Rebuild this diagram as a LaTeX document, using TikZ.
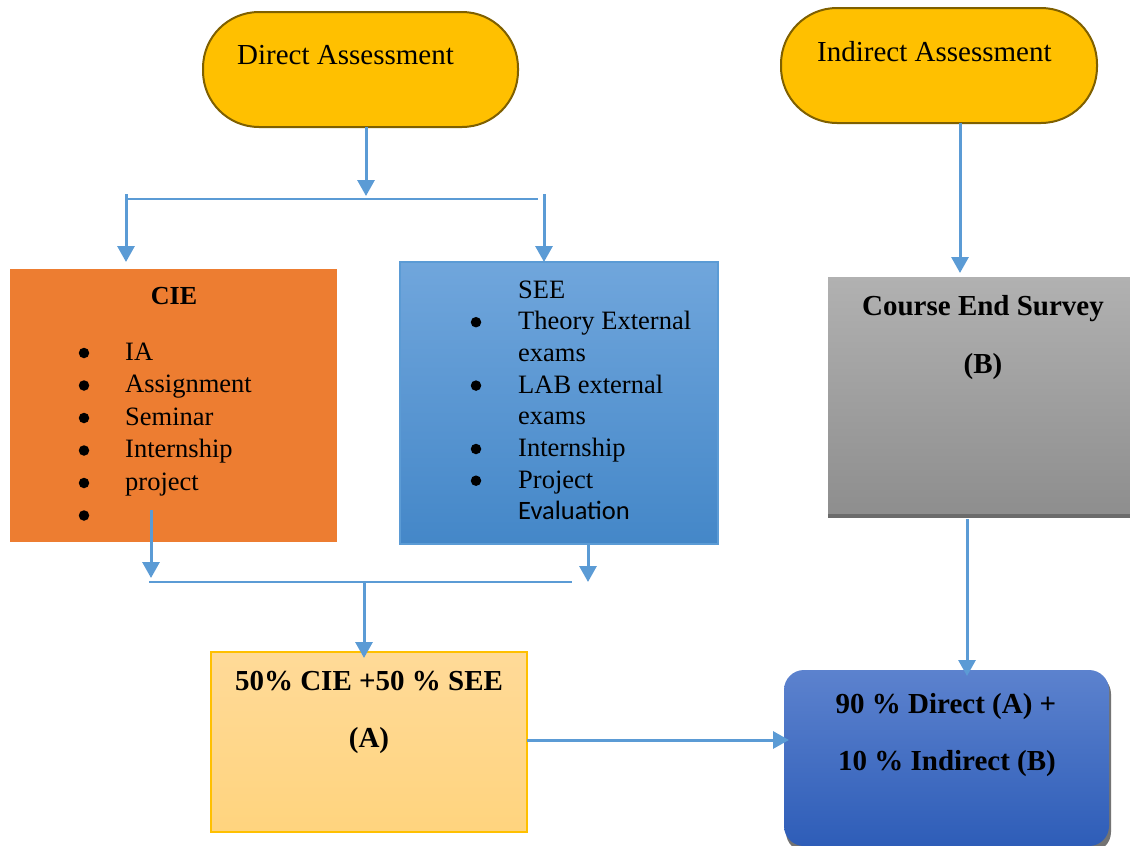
\documentclass[tikz,border=0pt]{standalone}
\usepackage{fontspec}
\setmainfont{Liberation Serif}
\newfontfamily\calib{Carlito}
\usetikzlibrary{arrows.meta}
\definecolor{gold}{HTML}{FFC000}
\definecolor{goldline}{HTML}{7F6000}
\definecolor{orangebox}{HTML}{ED7D31}
\definecolor{arrowblue}{HTML}{5B9BD5}
\definecolor{seetop}{HTML}{70A6DC}
\definecolor{seebot}{HTML}{4487C8}
\definecolor{graytop}{HTML}{B1B1B1}
\definecolor{graybot}{HTML}{8E8E8E}
\definecolor{yeltop}{HTML}{FFDA98}
\definecolor{yelbot}{HTML}{FFD47E}
\definecolor{fintop}{HTML}{5C82CE}
\definecolor{finbot}{HTML}{2E5DB8}
\tikzset{
  box/.style={anchor=north west, inner sep=0pt, outer sep=0pt},
  stadium/.style={box, draw=goldline, line width=2pt, fill=gold, rounded corners=56pt},
  arr/.style={draw=arrowblue, line width=3pt, -{Triangle[length=16pt,width=17pt]}},
  bar/.style={draw=arrowblue, line width=2pt},
  big/.style={font=\fontsize{29}{35}\selectfont},
  bigb/.style={font=\fontsize{29}{35}\selectfont\bfseries},
  lst/.style={font=\fontsize{26.5}{32}\selectfont, anchor=base west, inner sep=0pt},
  bul/.style={circle, fill=black, inner sep=0pt, minimum size=10.5pt},
  txt/.style={inner sep=0pt},
}
\begin{document}
\begin{tikzpicture}[x=1pt,y=-1pt]
\useasboundingbox (0,0) rectangle (1130,846);
\clip (0,0) rectangle (1130,846);
\fill[white] (0,0) rectangle (1130,846);
% top stadiums
\node[stadium, minimum width=315pt, minimum height=115pt] (da) at (203,12) {};
\node[stadium, minimum width=316pt, minimum height=115pt] (ia) at (781,8) {};
\node[txt, big, anchor=base west] (dat) at (237,64) {Direct Assessment};
\node[txt, big, anchor=base west] (iat) at (817,61) {Indirect Assessment};
% CIE box
\node[box, fill=orangebox, minimum width=327pt, minimum height=273pt] (cie) at (10,269) {};
\node[txt, font=\fontsize{26}{32}\selectfont\bfseries, anchor=base] (ciet) at (174,304) {CIE};
\foreach \t [count=\i] in {IA,Assignment,Seminar,Internship,project,{}} {
  \node[bul] (cb\i) at (84,{353+(\i-1)*32.5}) {};
  \node[lst] (ci\i) at (125,{360+(\i-1)*32.5}) {\t};
}
% SEE box
\node[box, draw=arrowblue, line width=1.5pt, top color=seetop, bottom color=seebot, minimum width=318pt, minimum height=282pt] (see) at (400,262) {};
\node[lst] (s0) at (518,298) {SEE};
\node[bul] (sb1) at (476,322.2) {};
\node[lst] (s1) at (518,329.7) {Theory External};
\node[lst] (s2) at (518,361.4) {exams};
\node[bul] (sb3) at (476,385.6) {};
\node[lst] (s3) at (518,393.1) {LAB external};
\node[lst] (s4) at (518,424.8) {exams};
\node[bul] (sb5) at (476,449) {};
\node[lst] (s5) at (518,456.5) {Internship};
\node[bul] (sb6) at (476,480.7) {};
\node[lst] (s6) at (518,488.2) {Project};
\node[lst, font=\fontsize{26.5}{32}\selectfont\calib] (s7) at (518,519.9) {Evaluation};
% gray box
\fill[black!58] (828,511) rectangle (1130,518);
\node[box, top color=graytop, bottom color=graybot, minimum width=302pt, minimum height=236pt] (ces) at (828,277) {};
\node[txt, bigb, anchor=base] (cest) at (983,315) {Course End Survey};
\node[txt, bigb, anchor=base] (cesb) at (983,373) {(B)};
% yellow box
\node[box, draw=gold, line width=1.5pt, top color=yeltop, bottom color=yelbot, minimum width=316pt, minimum height=180pt] (ya) at (211,652) {};
\node[txt, bigb, anchor=base] (yat) at (369,690) {50\% CIE +50 \% SEE};
\node[txt, bigb, anchor=base] (yab) at (369,747) {(A)};
% final box
\fill[black!55, rounded corners=20pt] (786,674) rectangle (1111,852);
\node[box, top color=fintop, bottom color=finbot, rounded corners=20pt, minimum width=325pt, minimum height=176pt] (fin) at (784,670) {};
\node[txt, bigb, anchor=base] (fint) at (946,713) {90 \% Direct (A) +};
\node[txt, bigb, anchor=base] (finb) at (947,770) {10 \% Indirect (B)};
% connectors: top branch
\coordinate (j1) at (366,196);
\coordinate (hl) at (126,199);
\coordinate (hr) at (538,199);
\coordinate (cl) at (126,194);
\coordinate (cr) at (544,194);
\draw[arr] (da.south -| j1) -- (j1);
\draw[bar] (hl) -- (hr);
\draw[arr] (cl) -- (126,262);
\draw[arr] (cr) -- (cr |- see.north);
% bottom branch
\coordinate (cs) at (151,510);
\coordinate (ss) at (588,544);
\coordinate (bl) at (149,582);
\coordinate (br) at (572,582);
\coordinate (j2) at (364,582);
\draw[arr] (cs) -- (151,578);
\draw[arr] (ss) -- (588,582);
\draw[bar] (bl) -- (br);
\draw[arr] (j2) -- ([yshift=-6pt]ya.north -| j2);
% right column
\draw[arr] (ia.south -| 960,0) -- (960,273);
\draw[arr] (967,519) -- ([yshift=-6pt]fin.north -| 967,0);
\draw[arr] (ya.east |- 0,740) -- (789,740);
\end{tikzpicture}
\end{document}
